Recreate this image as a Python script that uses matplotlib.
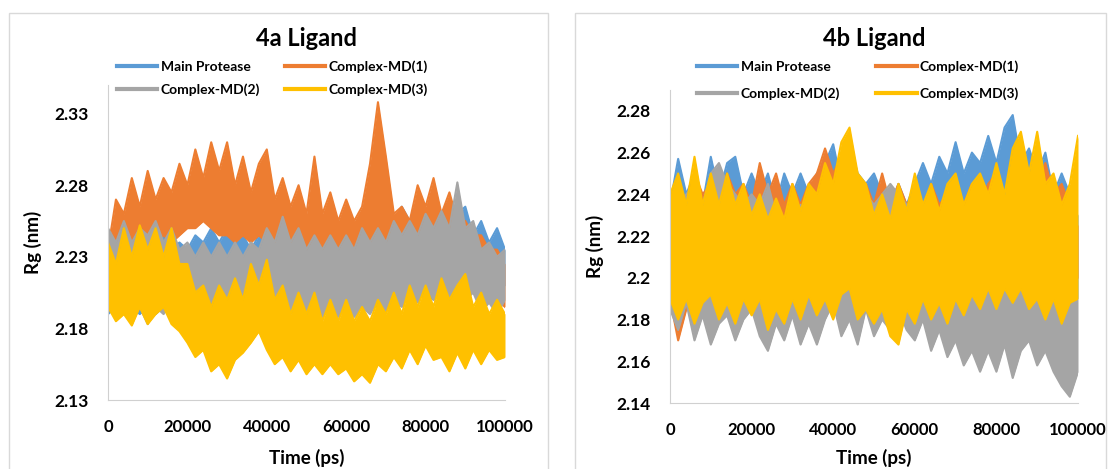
import matplotlib
matplotlib.use("Agg")
import matplotlib.pyplot as plt
from matplotlib.patches import Rectangle
import numpy as np

plt.rcParams['font.family'] = ['Lato', 'DejaVu Sans']
plt.rcParams['font.weight'] = 'bold'

# sample times (ps), one value pair every 2000 ps
time_ps = np.arange(0, 100001, 2000)
labels = ["Main Protease", "Complex-MD(1)", "Complex-MD(2)", "Complex-MD(3)"]
colors = ["#5B9BD5", "#ED7D31", "#A5A5A5", "#FFC000"]

# ---- 4a ligand: upper / lower edge of each noisy trace (nm)
a_mp_hi = [2.235, 2.245, 2.235, 2.245, 2.235, 2.245, 2.24, 2.245, 2.235, 2.24,
           2.235, 2.245, 2.24, 2.25, 2.24, 2.25, 2.24, 2.245, 2.235, 2.245,
           2.24, 2.245, 2.24, 2.245, 2.24, 2.245, 2.24, 2.245, 2.24, 2.245,
           2.24, 2.245, 2.245, 2.25, 2.25, 2.265, 2.255, 2.265, 2.255, 2.27,
           2.26, 2.275, 2.26, 2.27, 2.26, 2.265, 2.245, 2.255, 2.24, 2.25, 2.235]
a_mp_lo = [2.19, 2.195, 2.19, 2.195, 2.19, 2.195, 2.19, 2.195, 2.19, 2.18,
           2.195, 2.20, 2.20, 2.195, 2.20, 2.20, 2.195, 2.20, 2.20, 2.195,
           2.20, 2.20, 2.195, 2.20, 2.20, 2.195, 2.195, 2.195, 2.195, 2.195,
           2.195, 2.195, 2.195, 2.195, 2.195, 2.20, 2.205, 2.20, 2.205, 2.20,
           2.205, 2.20, 2.205, 2.20, 2.205, 2.21, 2.205, 2.21, 2.21, 2.205, 2.21]
a_md1_hi = [2.235, 2.27, 2.26, 2.285, 2.265, 2.29, 2.27, 2.285, 2.275, 2.295,
            2.28, 2.305, 2.285, 2.31, 2.29, 2.31, 2.28, 2.30, 2.275, 2.295,
            2.305, 2.27, 2.285, 2.265, 2.28, 2.26, 2.30, 2.26, 2.275, 2.255,
            2.27, 2.255, 2.265, 2.295, 2.338, 2.30, 2.26, 2.265, 2.255, 2.28,
            2.265, 2.285, 2.26, 2.275, 2.255, 2.255, 2.245, 2.245, 2.235, 2.235, 2.225]
a_md1_lo = [2.20, 2.225, 2.235, 2.24, 2.235, 2.24, 2.24, 2.245, 2.24, 2.245,
            2.25, 2.25, 2.255, 2.25, 2.245, 2.245, 2.24, 2.245, 2.24, 2.245,
            2.24, 2.235, 2.235, 2.235, 2.235, 2.235, 2.235, 2.235, 2.235, 2.235,
            2.235, 2.235, 2.235, 2.235, 2.23, 2.23, 2.23, 2.198, 2.23, 2.23,
            2.23, 2.23, 2.23, 2.23, 2.23, 2.215, 2.21, 2.205, 2.20, 2.20, 2.195]
a_md2_hi = [2.25, 2.24, 2.255, 2.24, 2.25, 2.245, 2.255, 2.24, 2.25, 2.235,
            2.24, 2.23, 2.24, 2.23, 2.24, 2.23, 2.24, 2.23, 2.24, 2.235,
            2.25, 2.24, 2.258, 2.24, 2.25, 2.235, 2.245, 2.235, 2.245, 2.235,
            2.245, 2.235, 2.25, 2.24, 2.25, 2.24, 2.255, 2.245, 2.255, 2.245,
            2.26, 2.25, 2.262, 2.25, 2.282, 2.25, 2.255, 2.235, 2.24, 2.23, 2.235]
a_md2_lo = [2.20, 2.19, 2.20, 2.185, 2.195, 2.183, 2.195, 2.19, 2.20, 2.195,
            2.205, 2.195, 2.205, 2.198, 2.205, 2.198, 2.205, 2.198, 2.205, 2.198,
            2.205, 2.195, 2.20, 2.19, 2.198, 2.188, 2.195, 2.188, 2.195, 2.188,
            2.195, 2.188, 2.195, 2.19, 2.20, 2.192, 2.20, 2.195, 2.205, 2.198,
            2.21, 2.20, 2.21, 2.20, 2.21, 2.20, 2.205, 2.192, 2.198, 2.19, 2.20]
a_md3_hi = [2.24, 2.225, 2.25, 2.23, 2.252, 2.235, 2.25, 2.23, 2.25, 2.225,
            2.225, 2.205, 2.21, 2.195, 2.21, 2.20, 2.215, 2.20, 2.225, 2.21,
            2.228, 2.20, 2.21, 2.19, 2.205, 2.19, 2.205, 2.185, 2.20, 2.185,
            2.20, 2.185, 2.195, 2.185, 2.20, 2.19, 2.205, 2.19, 2.21, 2.195,
            2.21, 2.195, 2.215, 2.20, 2.21, 2.218, 2.195, 2.205, 2.19, 2.20, 2.19]
a_md3_lo = [2.195, 2.185, 2.19, 2.182, 2.195, 2.183, 2.19, 2.195, 2.183, 2.178,
            2.17, 2.16, 2.165, 2.15, 2.155, 2.145, 2.158, 2.163, 2.17, 2.178,
            2.165, 2.155, 2.16, 2.15, 2.158, 2.148, 2.155, 2.148, 2.155, 2.148,
            2.152, 2.143, 2.148, 2.142, 2.155, 2.15, 2.16, 2.152, 2.165, 2.155,
            2.168, 2.158, 2.16, 2.15, 2.163, 2.152, 2.165, 2.155, 2.165, 2.158, 2.16]

# ---- 4b ligand
b_mp_hi = [2.235, 2.257, 2.24, 2.25, 2.235, 2.258, 2.24, 2.255, 2.258, 2.24,
           2.25, 2.24, 2.25, 2.235, 2.25, 2.24, 2.25, 2.24, 2.25, 2.255,
           2.264, 2.245, 2.264, 2.25, 2.245, 2.25, 2.24, 2.235, 2.245, 2.235,
           2.245, 2.255, 2.245, 2.258, 2.25, 2.265, 2.25, 2.26, 2.255, 2.268,
           2.255, 2.272, 2.278, 2.255, 2.262, 2.25, 2.26, 2.24, 2.25, 2.24, 2.23]
b_mp_lo = [2.195, 2.19, 2.20, 2.19, 2.195, 2.19, 2.20, 2.19, 2.195, 2.19,
           2.20, 2.19, 2.195, 2.19, 2.20, 2.19, 2.195, 2.19, 2.20, 2.19,
           2.195, 2.19, 2.20, 2.195, 2.20, 2.195, 2.20, 2.195, 2.20, 2.195,
           2.20, 2.195, 2.20, 2.195, 2.20, 2.195, 2.20, 2.195, 2.20, 2.195,
           2.20, 2.195, 2.20, 2.195, 2.20, 2.195, 2.19, 2.195, 2.19, 2.195, 2.19]
b_md1_hi = [2.235, 2.245, 2.235, 2.25, 2.24, 2.245, 2.235, 2.25, 2.24, 2.245,
            2.235, 2.255, 2.24, 2.25, 2.235, 2.245, 2.235, 2.245, 2.25, 2.262,
            2.25, 2.258, 2.26, 2.24, 2.245, 2.235, 2.25, 2.235, 2.245, 2.235,
            2.24, 2.232, 2.245, 2.235, 2.24, 2.245, 2.235, 2.245, 2.235, 2.245,
            2.25, 2.235, 2.245, 2.25, 2.238, 2.245, 2.255, 2.24, 2.245, 2.235, 2.225]
b_md1_lo = [2.19, 2.17, 2.185, 2.19, 2.185, 2.19, 2.18, 2.185, 2.19, 2.19,
            2.185, 2.19, 2.19, 2.185, 2.19, 2.19, 2.185, 2.19, 2.19, 2.185,
            2.19, 2.19, 2.185, 2.19, 2.19, 2.185, 2.19, 2.19, 2.185, 2.185,
            2.185, 2.185, 2.185, 2.185, 2.19, 2.19, 2.19, 2.195, 2.19, 2.195,
            2.20, 2.195, 2.195, 2.195, 2.195, 2.195, 2.195, 2.195, 2.195, 2.195, 2.20]
b_md2_hi = [2.24, 2.235, 2.24, 2.245, 2.235, 2.25, 2.255, 2.245, 2.24, 2.235,
            2.24, 2.235, 2.245, 2.23, 2.225, 2.23, 2.235, 2.225, 2.23, 2.225,
            2.22, 2.225, 2.23, 2.235, 2.24, 2.235, 2.24, 2.245, 2.24, 2.235,
            2.23, 2.235, 2.23, 2.225, 2.22, 2.215, 2.22, 2.21, 2.215, 2.22,
            2.21, 2.205, 2.21, 2.215, 2.22, 2.215, 2.21, 2.205, 2.20, 2.195, 2.19]
b_md2_lo = [2.185, 2.175, 2.188, 2.17, 2.182, 2.168, 2.178, 2.182, 2.17, 2.18,
            2.185, 2.172, 2.165, 2.178, 2.17, 2.182, 2.168, 2.178, 2.168, 2.18,
            2.188, 2.172, 2.18, 2.168, 2.185, 2.172, 2.18, 2.175, 2.185, 2.175,
            2.17, 2.18, 2.165, 2.175, 2.162, 2.17, 2.158, 2.165, 2.155, 2.165,
            2.155, 2.168, 2.152, 2.165, 2.17, 2.158, 2.165, 2.155, 2.148, 2.143, 2.155]
b_md3_hi = [2.24, 2.25, 2.235, 2.258, 2.235, 2.25, 2.235, 2.25, 2.235, 2.245,
            2.23, 2.24, 2.228, 2.238, 2.228, 2.245, 2.232, 2.245, 2.24, 2.255,
            2.245, 2.265, 2.272, 2.25, 2.245, 2.23, 2.24, 2.228, 2.245, 2.232,
            2.25, 2.235, 2.245, 2.232, 2.245, 2.25, 2.235, 2.245, 2.25, 2.24,
            2.255, 2.24, 2.262, 2.27, 2.25, 2.27, 2.245, 2.25, 2.235, 2.245, 2.268]
b_md3_lo = [2.19, 2.18, 2.19, 2.178, 2.188, 2.192, 2.18, 2.188, 2.178, 2.19,
            2.182, 2.19, 2.175, 2.185, 2.178, 2.19, 2.18, 2.192, 2.182, 2.19,
            2.18, 2.192, 2.195, 2.18, 2.185, 2.178, 2.185, 2.172, 2.168, 2.185,
            2.178, 2.19, 2.18, 2.188, 2.178, 2.19, 2.182, 2.192, 2.185, 2.195,
            2.185, 2.195, 2.188, 2.195, 2.185, 2.19, 2.18, 2.19, 2.178, 2.188, 2.19]

W, H = 1108, 469
fig = plt.figure(figsize=(W / 100, H / 100), dpi=100)

# light gray frames around each chart
for x0, x1 in [(9, 548), (575, 1106)]:
    fig.add_artist(Rectangle((x0 / W, -0.05), (x1 - x0) / W, 1.05 - 13 / H,
                             transform=fig.transFigure, fill=False,
                             edgecolor="#d9d9d9", lw=1))


def draw_panel(box, title, bands, ylim, yticks, ytick_fmt, leg):
    l, r, b, t = box
    ax = fig.add_axes([l / W, 1 - b / H, (r - l) / W, (b - t) / H])
    handles = []
    for k, ((hi, lo), c, lab) in enumerate(zip(bands, colors, labels)):
        z = 2 + k
        ax.fill_between(time_ps, lo, hi, color=c, lw=0, zorder=z)
        ax.plot(time_ps, hi, color=c, lw=1.5, zorder=z)
        ax.plot(time_ps, lo, color=c, lw=1.5, zorder=z)
        h, = ax.plot([], [], color=c, lw=3, label=lab)
        handles.append(h)
    ax.set_xlim(0, 100000)
    ax.set_ylim(*ylim)
    ax.set_xticks(range(0, 100001, 20000))
    ax.set_yticks(yticks)
    ax.set_yticklabels([ytick_fmt(v) for v in yticks])
    ax.tick_params(length=0, labelsize=12.5, pad=14)
    ax.tick_params(axis="x", labelsize=12)
    for s in ["top", "right"]:
        ax.spines[s].set_visible(False)
    for s in ["left", "bottom"]:
        ax.spines[s].set_color("#d0d0d0")
        ax.spines[s].set_zorder(10)
    cx = (l + r) / 2
    fig.text(cx / W, 1 - 38 / H, title, ha="center", va="center",
             fontsize=17, fontweight="bold")
    fig.text(cx / W, 1 - 458 / H, "Time (ps)", ha="center", va="center",
             fontsize=13.5, fontweight="bold")
    fig.text((l - 75) / W, 1 - ((t + b) / 2) / H, "Rg (nm)", rotation=90,
             ha="center", va="center", fontsize=13.5, fontweight="bold")
    lx, ly, colsp, rowsp = leg
    # legend fills column by column, so order gives rows MP/MD1 and MD2/MD3
    order = [0, 2, 1, 3]
    fig.legend(handles=[handles[i] for i in order], loc="upper left", ncol=2,
               bbox_to_anchor=(lx / W, 1 - ly / H), frameon=False,
               borderpad=0, borderaxespad=0, handlelength=2.9,
               handletextpad=0.25, columnspacing=colsp, labelspacing=rowsp,
               prop={"size": 10, "weight": "bold"})
    return ax


draw_panel((108, 505, 400, 85), "4a Ligand",
           [(a_mp_hi, a_mp_lo), (a_md1_hi, a_md1_lo),
            (a_md2_hi, a_md2_lo), (a_md3_hi, a_md3_lo)],
           (2.13, 2.35), [2.13, 2.18, 2.23, 2.28, 2.33],
           lambda v: f"{v:.2f}", (117, 60, 1.8, 0.75))

draw_panel((670, 1078, 403, 90), "4b Ligand",
           [(b_mp_hi, b_mp_lo), (b_md1_hi, b_md1_lo),
            (b_md2_hi, b_md2_lo), (b_md3_hi, b_md3_lo)],
           (2.14, 2.29), [2.14, 2.16, 2.18, 2.20, 2.22, 2.24, 2.26, 2.28],
           lambda v: f"{v:g}", (697, 60, 2.6, 1.05))

fig.savefig("out.png", dpi=100)
